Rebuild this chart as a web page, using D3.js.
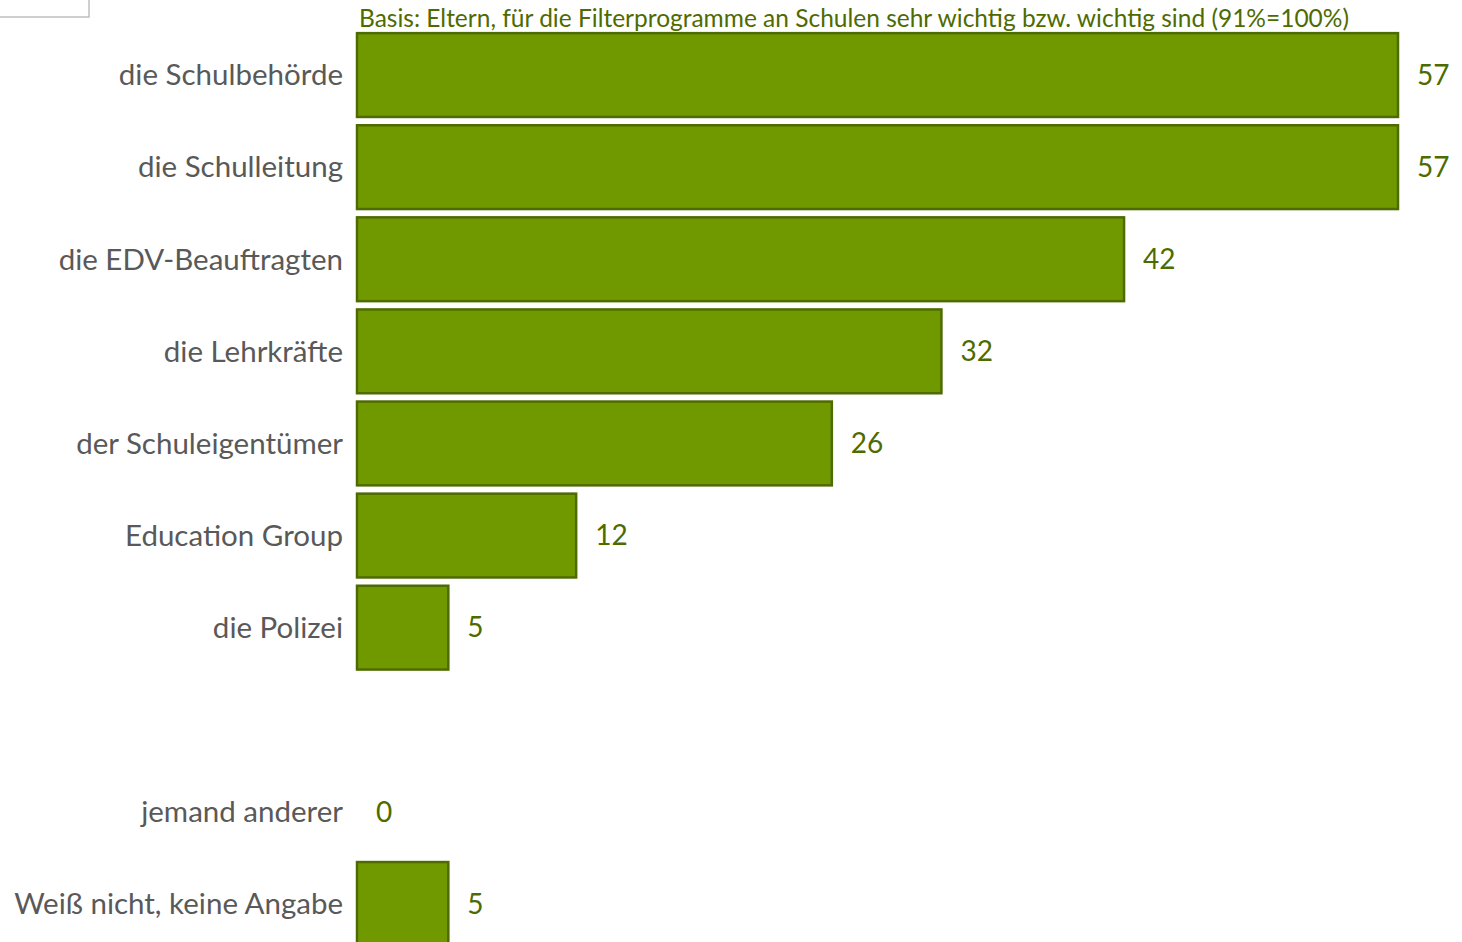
<!DOCTYPE html>
<html>
<head>
<meta charset="utf-8">
<script src="https://cdn.jsdelivr.net/npm/d3@7"></script>
<style>
  html, body { margin: 0; padding: 0; background: #fff; }
  svg { display: block; }
</style>
</head>
<body>
<svg id="chart" width="1462" height="942"></svg>
<script>
const svg = d3.select("#chart");

// data
const categories = ["die Schulbehörde", "die Schulleitung", "die EDV-Beauftragten", "die Lehrkräfte",
  "der Schuleigentümer", "Education Group", "die Polizei", "", "jemand anderer", "Weiß nicht, keine Angabe"];
const values = [57, 57, 42, 32, 26, 12, 5, null, 0, 5];
const subtitle = "Basis: Eltern, für die Filterprogramme an Schulen sehr wichtig bzw. wichtig sind (91%=100%)";

const BAR_FILL = "#709900";
const BAR_STROKE = "#4e6b00";
const VALUE_COLOR = "#4e6b00";
const LABEL_COLOR = "#595959";
const FONT = "Lato, 'Open Sans', sans-serif";

const rows = categories.map((c, i) => ({ key: "r" + i, label: c, value: values[i] }));

const x = d3.scaleLinear().domain([0, 57]).range([357, 1398]);
const y = d3.scaleBand()
  .domain(rows.map(d => d.key))
  .range([29, 950])
  .paddingInner(0.09)
  .paddingOuter(0.045);

// small frame in top-left corner
svg.append("rect")
  .attr("x", -10).attr("y", -10)
  .attr("width", 99).attr("height", 27)
  .attr("fill", "none")
  .attr("stroke", "#bfbfbf")
  .attr("stroke-width", 1.5);

svg.append("text")
  .attr("x", 359).attr("y", 27)
  .style("font-family", FONT)
  .style("font-size", "24.5px")
  .style("fill", VALUE_COLOR)
  .text(subtitle);

const data = rows.filter(d => d.value != null);

svg.selectAll("rect.bar")
  .data(data.filter(d => d.value > 0))
  .join("rect")
  .attr("class", "bar")
  .attr("x", x(0))
  .attr("y", d => y(d.key))
  .attr("width", d => x(d.value) - x(0))
  .attr("height", y.bandwidth())
  .attr("fill", BAR_FILL)
  .attr("stroke", BAR_STROKE)
  .attr("stroke-width", 2.5);

svg.selectAll("text.cat")
  .data(rows.filter(d => d.label))
  .join("text")
  .attr("class", "cat")
  .attr("x", 343)
  .attr("y", d => y(d.key) + y.bandwidth() / 2)
  .attr("dy", "0.35em")
  .attr("text-anchor", "end")
  .style("font-family", FONT)
  .style("font-size", "29.5px")
  .style("fill", LABEL_COLOR)
  .text(d => d.label);

svg.selectAll("text.val")
  .data(data)
  .join("text")
  .attr("class", "val")
  .attr("x", d => x(d.value) + 19)
  .attr("y", d => y(d.key) + y.bandwidth() / 2)
  .attr("dy", "0.35em")
  .style("font-family", FONT)
  .style("font-size", "28px")
  .style("fill", VALUE_COLOR)
  .text(d => d.value);
</script>
</body>
</html>
